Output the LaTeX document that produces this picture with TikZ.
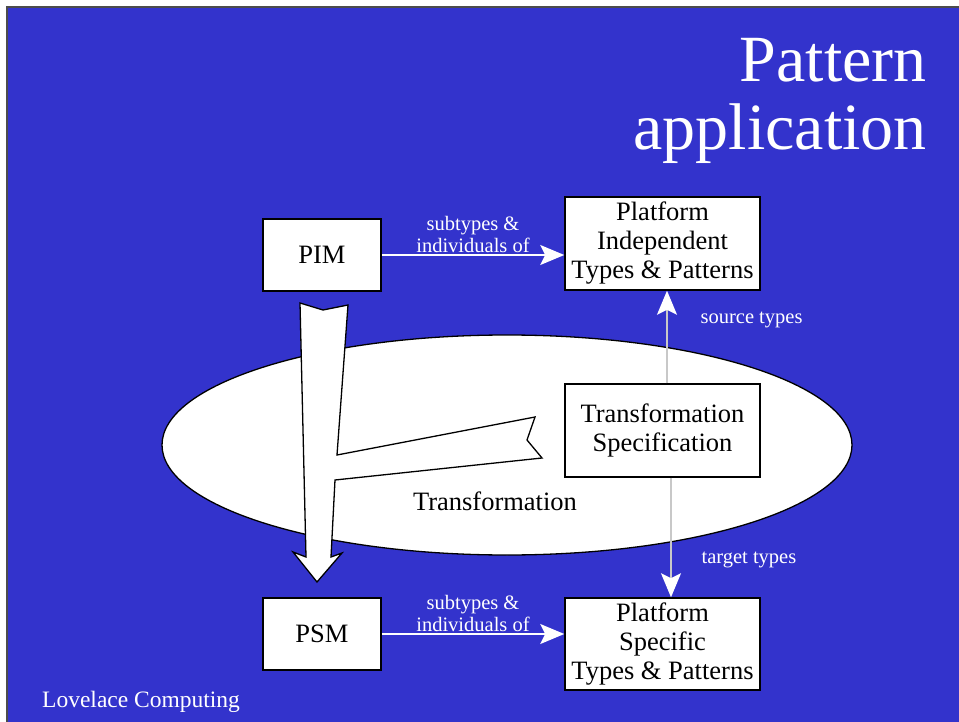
\documentclass[tikz,border=0pt]{standalone}
\usepackage{fontspec}
\setmainfont{Liberation Serif}
\usepackage{tikz}
\usetikzlibrary{arrows.meta}
\definecolor{slideblue}{RGB}{51,51,204}
\definecolor{linkgrey}{RGB}{200,200,200}

\begin{document}
\begin{tikzpicture}[x=1pt,y=-1pt,
	box/.style={draw=black,line width=1.5pt,fill=white,align=center,inner sep=0pt,font=\fontsize{26.5}{29}\selectfont},
	lbl/.style={text=white,align=center,inner sep=2pt,font=\fontsize{20.5}{22}\selectfont},
	flowtip/.style={-{Stealth[length=24pt,width=20pt,inset=5pt,color=white,fill=white]}}]
	\useasboundingbox (0,0) rectangle (959,722);
	\fill[slideblue] (7,7) rectangle (959,722);
	\draw[black!70,line width=1.5pt] (7,722) -- (7,7) -- (959,7);
	%
	\node[text=white,anchor=base east,inner sep=0pt,font=\fontsize{66}{68}\selectfont] (title1) at (927,82) {Pattern};
	\node[text=white,anchor=base east,inner sep=0pt,font=\fontsize{66}{68}\selectfont] (title2) at (927,150) {application};
	%
	\draw[fill=white,line width=1.3pt] (507,445) ellipse [x radius=345pt,y radius=110pt];
	\node[font=\fontsize{26.5}{29}\selectfont] (trans) at (495,501) {Transformation};
	%
	\draw[fill=white,line width=1.3pt,line join=miter]
	(300,303) -- (323,310) -- (348,305) -- (337,455) -- (535,417) -- (527,440)
	-- (542,458) -- (335,480) -- (331,557) -- (342,553) -- (317,582)
	-- (293,552) -- (306,557) -- cycle;
	%
	\node[box,minimum width=118pt,minimum height=72pt] (PIM) at (322,255) {PIM};
	\node[box,minimum width=195pt,minimum height=93pt] (PIT) at (662.5,243.5) {Platform\\Independent\\Types \& Patterns};
	\node[box,minimum width=195pt,minimum height=93pt] (TS) at (662.5,430.5) {Transformation\\Specification};
	\node[box,minimum width=118pt,minimum height=72pt] (PSM) at (322,634) {PSM};
	\node[box,minimum width=195pt,minimum height=92pt] (PST) at (662.5,644) {Platform\\Specific\\Types \& Patterns};
	%
	\path[flowtip,line width=1.5pt,white]
	(PIM.east) edge node[lbl,above]{subtypes \&\\individuals of} (PIM.east -| PIT.west)
	(PSM.east) edge node[lbl,above]{subtypes \&\\individuals of} (PSM.east -| PST.west);
	\path[flowtip,line width=1.2pt,linkgrey]
	([xshift=4.5pt]TS.north) edge node[lbl,pos=0.68,anchor=west,xshift=31pt]{source types} ([xshift=4.5pt]PIT.south)
	([xshift=8.5pt]TS.south) edge node[lbl,pos=0.69,anchor=west,xshift=28pt]{target types} ([xshift=8.5pt]PST.north);
	%
	\node[text=white,anchor=base west,inner sep=0pt,font=\fontsize{23.5}{25}\selectfont] (footer) at (42,707) {Lovelace Computing};
\end{tikzpicture}
\end{document}
